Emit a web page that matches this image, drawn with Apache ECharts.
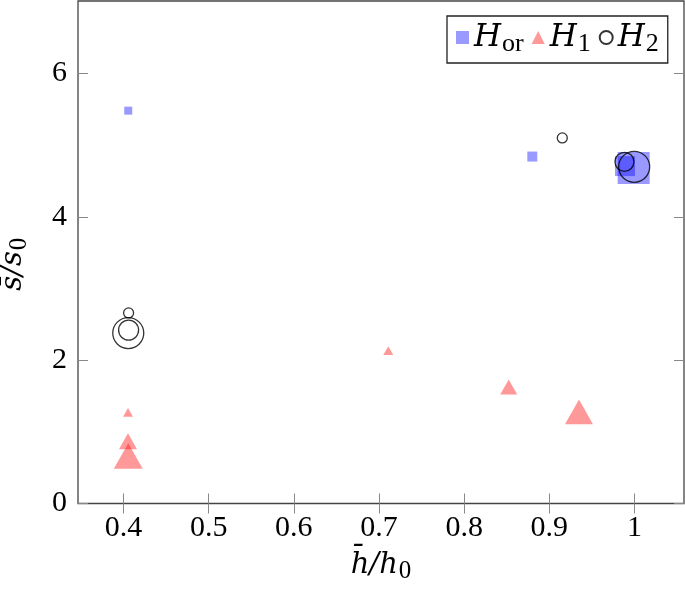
<!DOCTYPE html>
<html><head><meta charset="utf-8">
<script src="https://cdn.jsdelivr.net/npm/echarts@6/dist/echarts.min.js"></script>
<style>html,body{margin:0;padding:0;background:#fff}#c{width:685px;height:589px}</style>
</head><body><div id="c"></div>
<script>
// Data
const xTicks = [0.4, 0.5, 0.6, 0.7, 0.8, 0.9, 1];
const yTicks = [0, 2, 4, 6];

const horX = [0.4056, 0.880, 0.9888, 0.9990];
const horY = [5.48, 4.84, 4.707, 4.679];
const horMark = [8, 10, 20, 32];

const h1X = [0.4053, 0.4053, 0.4056, 0.7109, 0.8523, 0.9348];
const h1Y = [1.272, 0.868, 0.663, 2.132, 1.625, 1.279];
const h1Mark = [10, 18, 29, 10, 17, 28];

const h2X = [0.4060, 0.4060, 0.4056, 0.9152, 0.9882, 0.9996];
const h2Y = [2.659, 2.419, 2.377, 5.10, 4.767, 4.697];
const h2Mark = [10, 20, 31, 10, 19, 31];

const FONT = "'Liberation Serif', serif";
const IFONT = "'DejaVu Serif', serif";
const zip = (xs, ys, ss) => xs.map((x, i) => ({ value: [x, ys[i]], s: ss[i] }));

const chart = echarts.init(document.getElementById('c'));
const axisCommon = {
  type: 'value', splitLine: { show: false }, axisLine: { show: false }
};
const nameRich = {
  a: { fontFamily: IFONT, fontStyle: 'italic', fontSize: 29, color: '#000' },
  b: { fontFamily: FONT, fontSize: 25, color: '#000', padding: [12, 0, 0, 1] }
};
chart.setOption({
  animation: false,
  backgroundColor: '#fff',
  grid: { left: 78, right: 1, top: 1, bottom: 85.5, show: true, borderColor: '#444', borderWidth: 1.3, outerBoundsMode: 'none', containLabel: false },
  legend: {
    left: 447, top: 16,
    padding: [6, 9, 6, 9],
    borderColor: '#222', borderWidth: 1.3,
    itemWidth: 13, itemHeight: 13, itemGap: 8,
    data: ['Hor', 'H1', 'H2'],
    formatter: n => n === 'Hor' ? '{i|H}{s|or}' : (n === 'H1' ? '{i|H}{s|1}' : '{i|H}{s|2}'),
    textStyle: {
      color: '#000',
      rich: {
        i: { fontFamily: IFONT, fontStyle: 'italic', fontSize: 31, color: '#000' },
        s: { fontFamily: FONT, fontSize: 26, color: '#000', padding: [13, 0, 0, 1] }
      }
    }
  },
  xAxis: [
    Object.assign({}, axisCommon, {
      min: 0.3466, max: 1.0581, position: 'bottom',
      axisTick: { inside: true, length: 10, lineStyle: { color: '#888', width: 1 }, customValues: xTicks },
      axisLabel: { customValues: xTicks, margin: 10, fontFamily: FONT, fontSize: 30, color: '#000', formatter: v => String(v) },
      name: '{a|h̄/h}{b|0}', nameLocation: 'middle', nameGap: 43,
      nameTextStyle: { rich: nameRich }
    }),
    Object.assign({}, axisCommon, {
      min: 0.3466, max: 1.0581, position: 'top',
      axisTick: { inside: true, length: 10, lineStyle: { color: '#888', width: 1 }, customValues: xTicks },
      axisLabel: { show: false }
    })
  ],
  yAxis: [
    Object.assign({}, axisCommon, {
      min: 0, max: 7.01, position: 'left',
      axisTick: { inside: true, length: 10, lineStyle: { color: '#888', width: 1 }, customValues: yTicks },
      axisLabel: { customValues: yTicks, margin: 11, fontFamily: FONT, fontSize: 30, color: '#000' },
      name: '{a|s̄/s}{b|0}', nameLocation: 'middle', nameGap: 46, nameRotate: 90,
      nameTextStyle: { rich: nameRich, padding: [0, 24, 0, 0] }
    }),
    Object.assign({}, axisCommon, {
      min: 0, max: 7.01, position: 'right',
      axisTick: { inside: true, length: 10, lineStyle: { color: '#888', width: 1 }, customValues: yTicks },
      axisLabel: { show: false }
    })
  ],
  series: [
    {
      name: 'Hor', type: 'scatter', symbol: 'rect',
      data: zip(horX, horY, horMark),
      symbolSize: (v, p) => p.data.s,
      itemStyle: { color: 'rgba(0,0,255,0.5)' }
    },
    {
      name: 'H1', type: 'scatter', symbol: 'triangle',
      data: zip(h1X, h1Y, h1Mark),
      symbolSize: (v, p) => [p.data.s, p.data.s * 0.88],
      itemStyle: { color: 'rgba(255,0,0,0.5)' }
    },
    {
      name: 'H2', type: 'scatter', symbol: 'circle',
      data: zip(h2X, h2Y, h2Mark),
      symbolSize: (v, p) => p.data.s,
      itemStyle: { color: 'rgba(0,0,0,0)', borderColor: '#000', borderWidth: 1.3 }
    }
  ]
});
</script>
</body></html>
